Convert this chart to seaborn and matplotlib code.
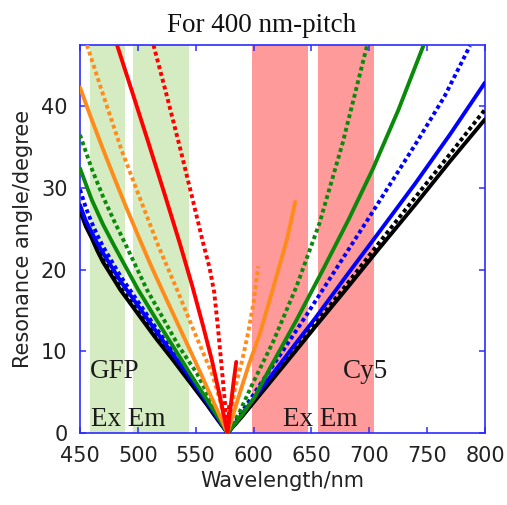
import matplotlib
matplotlib.use("Agg")
import matplotlib.pyplot as plt
import seaborn as sns
import pandas as pd

# ---------------- data ----------------
VERTEX_X = 577.5
VERTEX_Y = 0.0

black_solid_lx = [450, 455, 460, 465, 470, 485, 500, 515, 530, 545, 560, 568]
black_solid_ly = [27.2, 25.3, 23.9, 22.3, 20.9, 17.5, 14.6, 11.7, 9.0, 6.2, 3.4, 1.8]
black_solid_rx = [590, 605, 620, 635, 655, 680, 708, 740, 770, 800]
black_solid_ry = [2.0, 4.6, 7.2, 9.8, 13.3, 17.6, 22.5, 28.0, 33.3, 38.4]

black_dash_lx = [450, 455, 460, 465, 470, 485, 500, 515, 530, 545, 560, 568]
black_dash_ly = [27.6, 25.7, 24.2, 22.6, 21.2, 17.8, 14.9, 12.0, 9.2, 6.4, 3.5, 1.9]
black_dash_rx = [590, 605, 620, 635, 655, 680, 708, 740, 770, 800]
black_dash_ry = [2.1, 4.8, 7.4, 10.1, 13.7, 18.1, 23.2, 28.9, 34.2, 39.6]

blue_solid_lx = [450, 455, 460, 465, 470, 485, 500, 515, 530, 545, 560, 568]
blue_solid_ly = [27.9, 26.0, 24.6, 23.2, 22.0, 18.6, 15.6, 12.6, 9.7, 6.8, 3.7, 2.0]
blue_solid_rx = [590, 605, 620, 635, 653, 680, 708, 740, 770, 800]
blue_solid_ry = [2.3, 5.1, 7.9, 10.7, 14.0, 19.2, 24.5, 30.6, 36.6, 42.9]

blue_dash_lx = [450, 455, 460, 465, 470, 485, 500, 515, 530, 545, 560, 568]
blue_dash_ly = [29.8, 27.6, 25.8, 24.2, 22.8, 19.2, 16.1, 13.0, 10.0, 7.0, 3.8, 2.1]
blue_dash_rx = [590, 605, 625, 646, 670, 699, 720, 741, 765, 787]
blue_dash_ry = [2.6, 5.8, 10.0, 14.5, 19.8, 26.2, 30.9, 35.6, 41.2, 47.4]

green_solid_lx = [450, 460, 470, 480, 490, 500, 515, 530, 545, 560, 570]
green_solid_ly = [32.4, 28.6, 25.5, 22.8, 20.2, 17.6, 14.1, 10.7, 7.3, 4.0, 1.8]
green_solid_rx = [590, 601, 614, 637, 660, 682, 703, 725, 747]
green_solid_ry = [2.2, 4.4, 7.9, 13.8, 20.0, 26.1, 32.3, 39.5, 47.5]

green_dash_lx = [450, 460, 470, 480, 489, 500, 508, 520, 535, 551, 564]
green_dash_ly = [36.5, 32.4, 28.9, 25.8, 23.2, 19.9, 17.5, 14.5, 10.7, 7.3, 3.7]
green_dash_rx = [588, 598, 617, 637, 657, 677, 698]
green_dash_ry = [2.6, 5.7, 11.2, 17.9, 25.7, 35.5, 47.4]

orange_solid_lx = [450, 460, 470, 480, 490, 501, 511, 521, 537, 554, 566]
orange_solid_ly = [42.3, 38.4, 34.7, 31.1, 27.6, 23.9, 20.6, 17.5, 12.6, 7.4, 3.6]
orange_solid_rx = [587, 596, 605.5, 617, 629, 636]
orange_solid_ry = [4.4, 8.4, 12.2, 17.8, 23.8, 28.3]

orange_dash_lx = [456, 470, 486, 500, 518, 534, 549, 564, 571]
orange_dash_ly = [47.5, 41.4, 34.6, 29.4, 22.8, 17.5, 12.3, 7.3, 4.0]
orange_dash_rx = [584, 590, 595.5, 600, 604]
orange_dash_ry = [5.5, 8.8, 12.4, 16.0, 20.4]

red_solid_lx = [482, 495, 509, 523, 536.5, 547, 556, 564, 571]
red_solid_ly = [47.5, 41.8, 35.6, 29.3, 23.1, 18.0, 13.3, 8.9, 4.4]
red_solid_rx = [580, 582.5, 585]
red_solid_ry = [3.0, 6.0, 8.7]

red_dash_lx = [513.5, 525, 537, 547, 556.5, 562, 566, 569, 572, 575]
red_dash_ly = [47.5, 41.3, 34.6, 28.8, 23.2, 20.2, 17.2, 13.2, 8.7, 4.1]
red_dash_rx = [579]
red_dash_ry = [3.5]

series = [
    ("black solid", "black", "solid", black_solid_lx, black_solid_ly, black_solid_rx, black_solid_ry),
    ("black dashed", "black", "dashed", black_dash_lx, black_dash_ly, black_dash_rx, black_dash_ry),
    ("blue dashed", "blue", "dashed", blue_dash_lx, blue_dash_ly, blue_dash_rx, blue_dash_ry),
    ("blue solid", "blue", "solid", blue_solid_lx, blue_solid_ly, blue_solid_rx, blue_solid_ry),
    ("green solid", "green", "solid", green_solid_lx, green_solid_ly, green_solid_rx, green_solid_ry),
    ("green dashed", "green", "dashed", green_dash_lx, green_dash_ly, green_dash_rx, green_dash_ry),
    ("orange solid", "orange", "solid", orange_solid_lx, orange_solid_ly, orange_solid_rx, orange_solid_ry),
    ("orange dashed", "orange", "dashed", orange_dash_lx, orange_dash_ly, orange_dash_rx, orange_dash_ry),
    ("red dashed", "red", "dashed", red_dash_lx, red_dash_ly, red_dash_rx, red_dash_ry),
    ("red solid", "red", "solid", red_solid_lx, red_solid_ly, red_solid_rx, red_solid_ry),
]

color_map = {"black": "#000000", "blue": "#0000ff", "green": "#0a8a0a",
             "orange": "#ff8c1a", "red": "#ff0000"}

# shaded excitation / emission bands
gfp_bands = [(459, 489), (496, 544)]
cy5_bands = [(599, 647), (656, 704)]

x_ticks = [450, 500, 550, 600, 650, 700, 750, 800]
y_ticks = [0, 10, 20, 30, 40]

# ---------------- build table ----------------
rows = []
for name, col, kind, lx, ly, rx, ry in series:
    xs = list(lx) + [VERTEX_X] + list(rx)
    ys = list(ly) + [VERTEX_Y] + list(ry)
    for i, (x, y) in enumerate(zip(xs, ys)):
        rows.append({"series": name, "color": col, "kind": kind, "order": i, "wl": x, "angle": y})
df = pd.DataFrame(rows)

# ---------------- plot ----------------
sns.set_style("white")
plt.rcParams["font.family"] = ["DejaVu Sans"]

fig = plt.figure(figsize=(5.07, 5.05), dpi=100)
ax = fig.add_axes([80 / 507, 1 - 433 / 505, 405 / 507, 388 / 505])

for a, b in gfp_bands:
    ax.axvspan(a, b, color="#d5ebc2", lw=0, zorder=0)
for a, b in cy5_bands:
    ax.axvspan(a, b, color="#ff9a9a", lw=0, zorder=0)

palette = {name: color_map[col] for name, col, *_ in series}
sns.lineplot(data=df, x="wl", y="angle", hue="series", style="kind",
             palette=palette, hue_order=[s[0] for s in series],
             dashes={"solid": "", "dashed": (1.0, 0.8)},
             estimator=None, sort=False, lw=2.8, legend=False, ax=ax, zorder=3)

ax.set_xlim(450, 800)
ax.set_ylim(0, 47.5)
ax.set_xticks(x_ticks)
ax.set_yticks(y_ticks)

spine_col = "#2b2bff"
for s in ax.spines.values():
    s.set_color(spine_col)
    s.set_linewidth(1.2)
    s.set_visible(True)
ax.tick_params(direction="in", length=4, width=1.1, color=spine_col,
               bottom=True, left=True, top=True, right=True,
               labelsize=15, labelcolor="#222222")
ax.tick_params(axis="x", pad=9)
ax.tick_params(axis="y", pad=9)

ax.set_xlabel("Wavelength/nm", fontsize=15, color="#222222", labelpad=4)
ax.set_ylabel("Resonance angle/degree", fontsize=15, color="#222222", labelpad=6)

serif = ["Liberation Serif", "DejaVu Serif"]
tfs = 19.5
ax.text(458.8, 6.7, "GFP", family=serif, fontsize=tfs, color="#1a1a1a", va="baseline", ha="left", zorder=4)
ax.text(459.5, 0.8, "Ex Em", family=serif, fontsize=tfs, color="#1a1a1a", va="baseline", ha="left", zorder=4)
ax.text(677.5, 6.7, "Cy5", family=serif, fontsize=tfs, color="#1a1a1a", va="baseline", ha="left", zorder=4)
ax.text(625.6, 0.8, "Ex Em", family=serif, fontsize=tfs, color="#1a1a1a", va="baseline", ha="left", zorder=4)

fig.text(262 / 507, 1 - 31.5 / 505, "For 400 nm-pitch", family=serif, fontsize=tfs,
         color="#111111", ha="center", va="baseline")

fig.savefig("out.png", dpi=100, facecolor="white")
